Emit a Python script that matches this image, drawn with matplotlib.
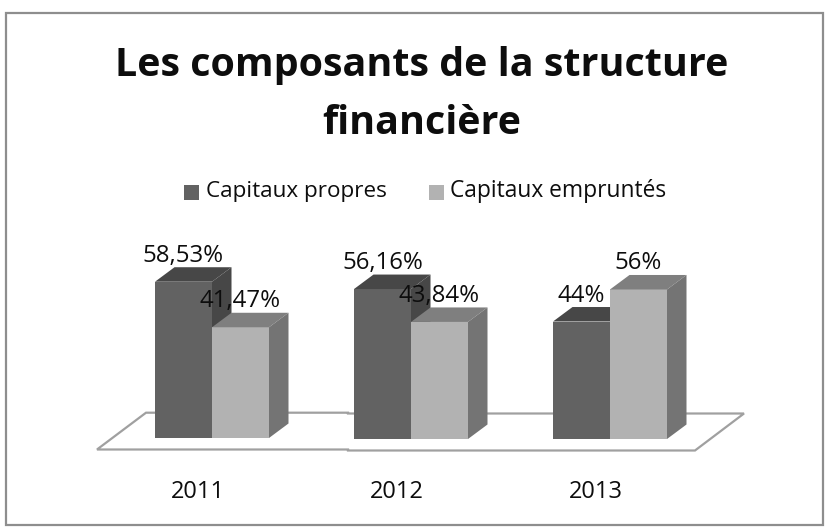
import matplotlib
matplotlib.use("Agg")
import matplotlib.pyplot as plt
from matplotlib.patches import Polygon, Rectangle

years = ["2011", "2012", "2013"]
propres = [58.53, 56.16, 44]
empruntes = [41.47, 43.84, 56]
labels_propres = ["58,53%", "56,16%", "44%"]
labels_empruntes = ["41,47%", "43,84%", "56%"]
title_lines = ["Les composants de la structure", "financière"]
series_names = ["Capitaux propres", "Capitaux empruntés"]

W, H = 828, 532
FONT = "Open Sans"
TXT = "#0d0d0d"
fig = plt.figure(figsize=(W / 100, H / 100), dpi=100, facecolor="white")
ax = fig.add_axes([0, 0, 1, 1])
XS, YS, X0, Y0 = 199.0, 2.67, 212.0, 439.0
ax.set_xlim((0 - X0) / XS, (W - X0) / XS)
ax.set_ylim((Y0 - H) / YS, Y0 / YS)
ax.axis("off")

def px(x, y):
    return x / W, 1 - y / H

fig.add_artist(Rectangle(px(6, 525), 817 / W, 512 / H, transform=fig.transFigure,
                         fill=False, ec="#8e8e8e", lw=1.6))

bw = 57 / XS
dx, dy = 19.5 / XS, 14.5 / YS
DARK = ("#626262", "#474747", "#474747")
LIGHT = ("#b2b2b2", "#7f7f7f", "#747474")

fx0, fx1 = (97 - X0) / XS, (695 - X0) / XS
bx0, bx1 = (146 - X0) / XS, (744 - X0) / XS
stepx = (348 - X0) / XS
fy, by = (Y0 - 450.5) / YS, (Y0 - 413.5) / YS
fy0, by0 = (Y0 - 449.5) / YS, (Y0 - 412.7) / YS
ax.add_patch(Polygon([(fx0, fy0), (bx0, by0), (stepx, by0), (stepx, by), (bx1, by), (fx1, fy), (stepx, fy), (stepx, fy0)],
                     closed=True, fc="white", ec="#a0a0a0", lw=1.6, zorder=1))

def bar3d(x, base, v, cols, z):
    top = base + v
    ax.bar(x, v, bottom=base, width=bw, align="edge", color=cols[0], zorder=z)
    ax.add_patch(Polygon([(x, top), (x + dx, top + dy), (x + bw + dx, top + dy), (x + bw, top)],
                         closed=True, fc=cols[1], ec="none", zorder=z))
    ax.add_patch(Polygon([(x + bw, base), (x + bw + dx, base + dy), (x + bw + dx, top + dy), (x + bw, top)],
                         closed=True, fc=cols[2], ec="none", zorder=z))

tk = dict(family=FONT, color=TXT, zorder=20, clip_on=False)
LBL = 17.3
for i in range(len(years)):
    base = (1 / YS) if i == 0 else 0
    bar3d(i - bw, base, propres[i], DARK, 2 + i)
    bar3d(i, base, empruntes[i], LIGHT, 2.5 + i)
    ax.text(i - bw / 2, base + propres[i] + 20 / YS, labels_propres[i], ha="center", va="baseline", fontsize=LBL, **tk)
    ax.text(i + bw / 2, base + empruntes[i] + 20 / YS, labels_empruntes[i], ha="center", va="baseline", fontsize=LBL, **tk)
    ax.text(i - 14 / XS, (Y0 - 498) / YS, years[i], ha="center", va="baseline", fontsize=17, **tk)

fig.text(*px(422, 76), title_lines[0], ha="center", va="baseline", fontsize=28.4, fontweight="bold",
         family=FONT, color=TXT)
fig.text(*px(422, 134), title_lines[1], ha="center", va="baseline", fontsize=28.4, fontweight="bold",
         family=FONT, color=TXT)

fig.add_artist(Rectangle(px(184, 200), 15 / W, 15 / H, transform=fig.transFigure, fc="#626262", ec="none"))
fig.add_artist(Rectangle(px(429, 200), 15 / W, 15 / H, transform=fig.transFigure, fc="#b2b2b2", ec="none"))
fig.text(*px(206, 197), series_names[0], ha="left", va="baseline", fontsize=16.2, family=FONT, color=TXT)
fig.text(*px(450, 197), series_names[1], ha="left", va="baseline", fontsize=16.4, family=FONT, color=TXT)

fig.savefig("out.png", dpi=100)
